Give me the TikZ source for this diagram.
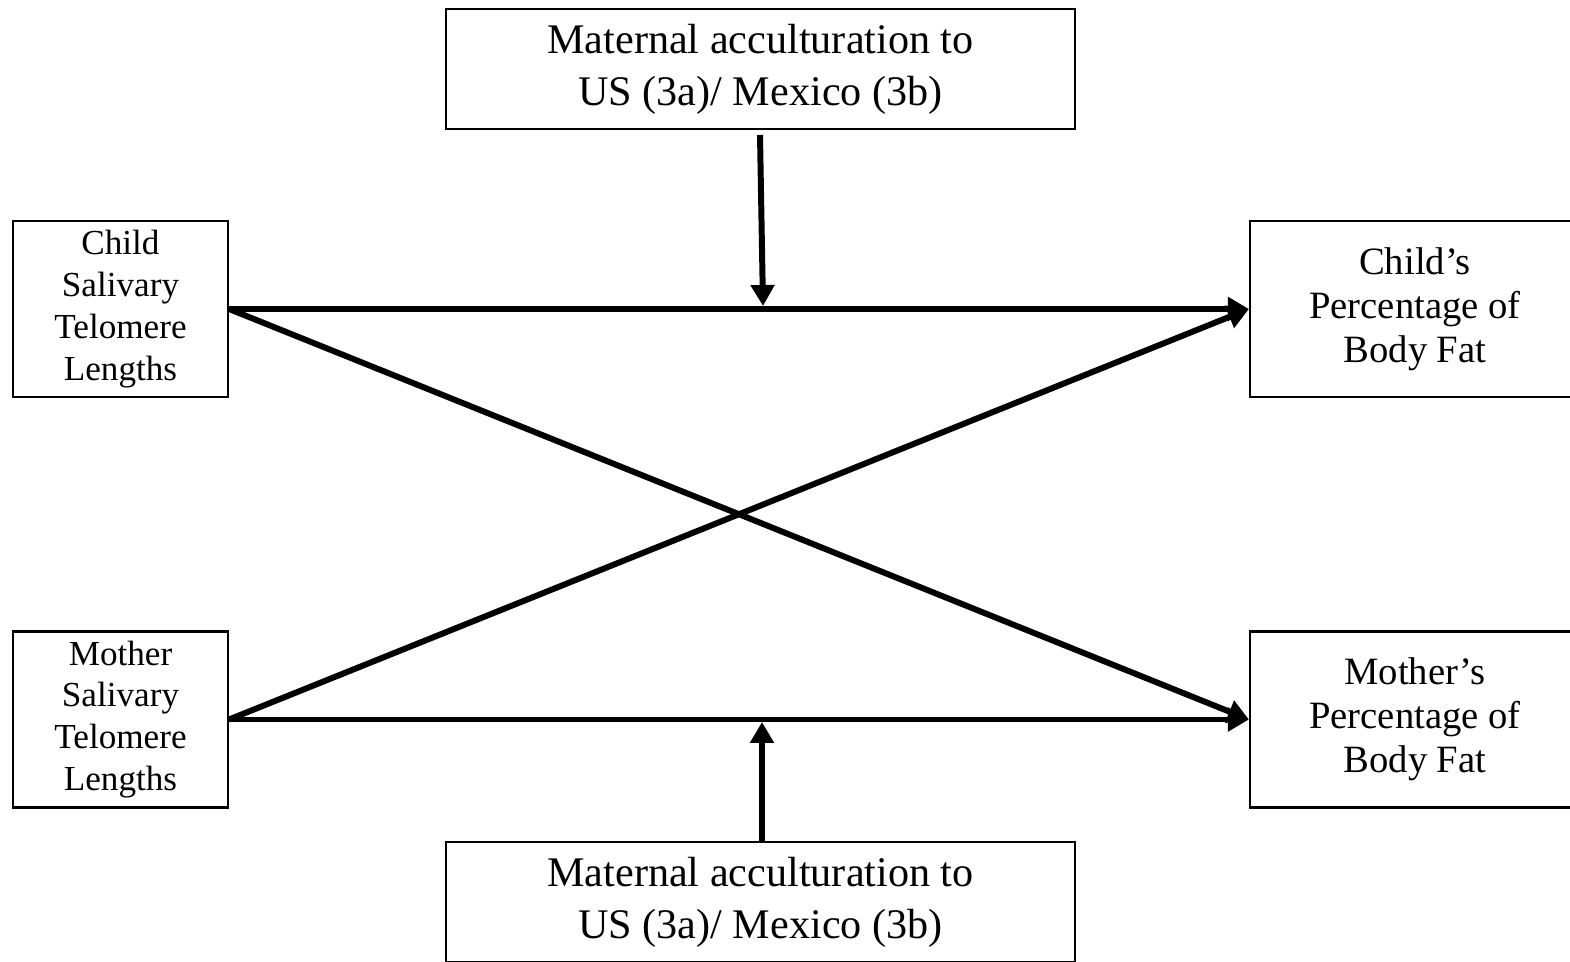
\documentclass[tikz,border=0pt]{standalone}
\usepackage{fontspec}
\setmainfont{Liberation Serif}
\usetikzlibrary{arrows.meta}
\tikzset{
  modbox/.style={draw=black, line width=0.6pt, minimum width=6.29cm, minimum height=1.20cm, align=center, font=\fontsize{12}{14.8}\selectfont, inner sep=0pt},
  telobox/.style={draw=black, line width=0.6pt, minimum width=2.15cm, minimum height=1.76cm, align=center, font=\fontsize{10}{11.9}\selectfont, inner sep=0pt},
  fatbox/.style={draw=black, line width=0.6pt, minimum width=3.30cm, minimum height=1.76cm, align=center, font=\fontsize{11}{12.5}\selectfont, inner sep=0pt},
  link/.style={line width=1.7pt, -{Triangle[length=0.21cm, width=0.23cm]}},
}

\begin{document}
\begin{tikzpicture}
\useasboundingbox (0,0) rectangle (15.70,9.61);
\clip (0,0) rectangle (15.70,9.61);
\node[modbox] (acctop) at (7.605,8.92) {Maternal acculturation to\\US (3a)/ Mexico (3b)};
\node[modbox] (accbot) at (7.605,0.59) {Maternal acculturation to\\US (3a)/ Mexico (3b)};
\node[telobox] (childtl) at (1.205,6.52) {Child\\Salivary\\Telomere\\Lengths};
\node[telobox] (mothertl) at (1.205,2.415) {Mother\\Salivary\\Telomere\\Lengths};
\node[fatbox] (childfat) at (14.15,6.52) {Child’s\\Percentage of\\Body Fat};
\node[fatbox] (motherfat) at (14.15,2.415) {Mother’s\\Percentage of\\Body Fat};
\coordinate (topstart) at (7.60,8.26);
\coordinate (topend) at (7.63,6.55);
\coordinate (botstart) at (7.62,1.19);
\coordinate (botend) at (7.62,2.39);
\draw[link] (childtl.east) -- (childfat.west);
\draw[link] (mothertl.east) -- (motherfat.west);
\draw[link] (childtl.east) -- (motherfat.west);
\draw[link] (mothertl.east) -- (childfat.west);
\draw[link] (topstart) -- (topend);
\draw[link] (botstart) -- (botend);
\end{tikzpicture}
\end{document}
